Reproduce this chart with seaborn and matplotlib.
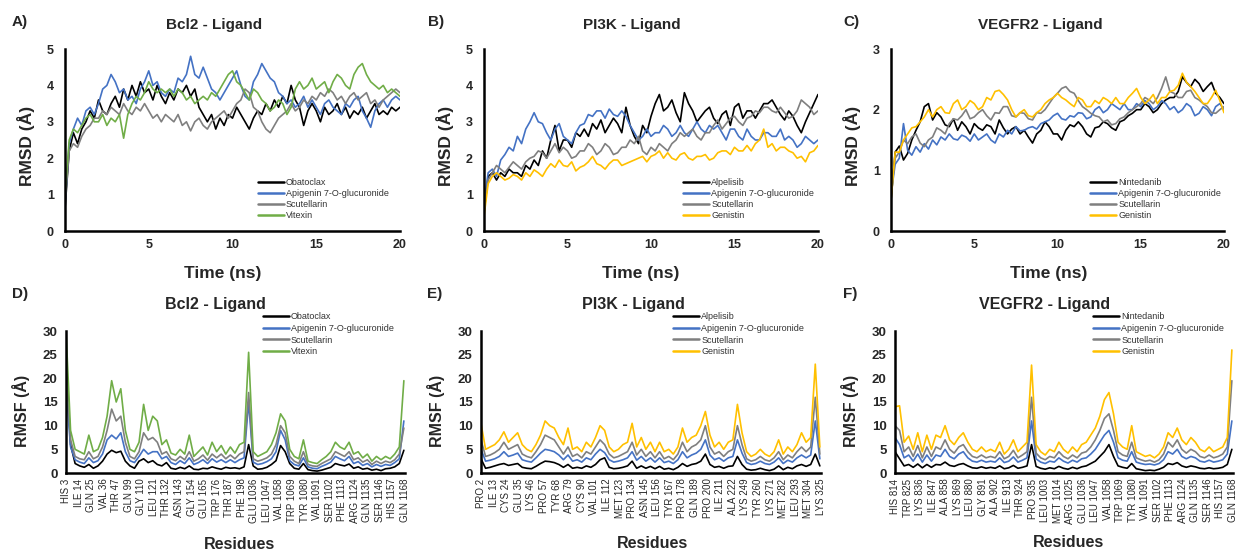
import numpy as np
import pandas as pd
import matplotlib
matplotlib.use("Agg")
import matplotlib.pyplot as plt
import seaborn as sns

sns.set_style("white")
plt.rcParams["font.family"] = ["Liberation Sans", "DejaVu Sans"]

W, H = 1236, 552

# ---------------- RMSD data (Å), sampled every 0.25 ns ----------------
time_ns = np.arange(0, 20.001, 0.25)

bcl2_obatoclax = [
    0.6, 2.2, 2.7, 2.4, 2.8, 3.0, 3.3, 3.1,
    3.6, 3.3, 3.2, 3.5, 3.7, 3.4, 3.9, 3.6,
    4.0, 3.7, 4.1, 3.8, 3.9, 3.6, 4.0, 3.7,
    3.5, 3.8, 3.6, 3.9, 3.8, 4.0, 3.7, 3.9,
    3.4, 3.2, 3.0, 3.2, 2.8, 3.1, 2.9, 3.2,
    3.1, 3.4, 3.2, 3.0, 2.8, 3.1, 3.3, 3.2,
    3.5, 3.3, 3.6, 3.4, 3.7, 3.5, 4.0, 3.6,
    3.4, 2.9, 3.3, 3.5, 3.3, 3.0, 3.4, 3.2,
    3.3, 3.5, 3.2, 3.4, 3.1, 3.3, 3.2, 3.4,
    3.1, 3.3, 3.5, 3.2, 3.3, 3.2, 3.4, 3.3,
    3.4]
bcl2_apigenin = [
    0.7, 2.4, 2.8, 3.1, 2.9, 3.3, 3.4, 3.2,
    3.5, 3.9, 4.0, 4.3, 4.1, 3.8, 3.9, 3.6,
    3.7, 3.5, 3.9, 4.1, 4.4, 4.0, 4.1, 3.8,
    3.7, 3.9, 3.8, 4.2, 4.1, 4.3, 4.8, 4.3,
    4.2, 4.5, 4.2, 3.9, 3.8, 3.6, 3.8, 4.0,
    4.2, 4.4, 4.0, 3.7, 3.6, 4.1, 4.3, 4.6,
    4.4, 4.2, 4.1, 3.8, 3.7, 3.5, 3.6, 3.4,
    3.5, 3.7, 3.4, 3.6, 3.4, 3.2, 3.5, 3.6,
    3.4, 3.3, 3.2, 3.5, 3.4, 3.6, 3.7, 3.3,
    3.1, 2.85, 3.3, 3.5, 3.6, 3.4, 3.6, 3.7,
    3.6]
bcl2_scutellarin = [
    0.8, 2.2, 2.4, 2.3, 2.6, 2.8, 2.9, 3.1,
    3.1, 3.3, 3.2, 3.4, 3.3, 3.2, 3.5, 3.3,
    3.2, 3.4, 3.3, 3.5, 3.3, 3.1, 3.2, 3.0,
    3.2, 3.1, 3.0, 3.2, 2.9, 3.0, 2.75, 3.0,
    3.1, 2.9, 2.8, 3.0, 3.1, 3.2, 3.3, 3.1,
    3.3, 3.5, 3.6, 3.9, 3.8, 3.4, 3.3, 3.0,
    2.8, 2.7, 2.9, 3.1, 3.2, 3.3, 3.5, 3.3,
    3.4, 3.6, 3.5, 3.7, 3.6, 3.8, 3.7, 3.9,
    3.8, 3.6, 3.7, 3.5, 3.7, 3.8, 3.6, 3.7,
    3.8, 3.5, 3.6, 3.4, 3.6, 3.7, 3.8, 3.9,
    3.8]
bcl2_vitexin = [
    1.0, 2.5, 2.8, 2.7, 2.9, 3.1, 3.2, 3.0,
    3.0, 3.2, 2.9, 3.1, 3.0, 3.2, 2.55, 3.2,
    3.5, 3.7, 3.6, 3.8, 4.1, 3.9, 3.8, 3.9,
    3.8, 3.9, 3.7, 3.9, 3.8, 3.6, 3.7, 3.5,
    3.6, 3.7, 3.6, 3.8, 3.7, 3.9, 4.1, 4.3,
    4.4, 4.1, 4.0, 3.8, 3.6, 3.9, 3.8, 3.6,
    3.5, 3.3, 3.4, 3.6, 3.5, 3.2, 3.4, 3.9,
    4.1, 3.9, 4.0, 4.2, 3.9, 4.0, 4.1, 3.8,
    4.1, 4.3, 4.2, 4.0, 3.9, 4.3, 4.5, 4.6,
    4.3, 4.1, 4.0, 3.9, 4.0, 3.8, 3.9, 3.8,
    3.7]

pi3k_alpelisib = [
    0.5, 1.5, 1.6, 1.4, 1.6, 1.5, 1.7, 1.6,
    1.6, 1.5, 1.8, 1.7, 1.95, 1.8, 2.2, 2.0,
    2.5, 2.9, 2.2, 2.5, 2.5, 2.3, 2.7, 2.6,
    2.8, 2.6, 2.95, 2.8, 3.05, 2.7, 2.9, 3.1,
    2.95, 2.7, 3.4, 2.9, 2.6, 2.4, 2.9, 2.7,
    3.15, 3.5, 3.75, 3.3, 3.4, 3.6, 3.25, 3.0,
    3.8, 3.5, 3.3, 3.0, 3.15, 3.3, 3.4, 3.1,
    2.95, 3.2, 3.3, 2.9, 3.4, 3.5, 3.1, 3.3,
    3.3, 3.1, 3.3, 3.5, 3.5, 3.6, 3.4, 3.2,
    3.05, 3.3, 3.15, 2.9, 2.7, 3.0, 3.25, 3.5,
    3.75]
pi3k_apigenin = [
    0.8, 1.6, 1.7, 1.5, 1.95, 2.1, 2.3, 2.2,
    2.6, 2.4, 2.8, 3.0, 3.25, 3.0, 2.95, 2.7,
    2.5, 2.8, 2.95, 2.6, 2.5, 2.4, 2.7, 2.9,
    2.95, 3.2, 3.15, 3.3, 3.3, 3.1, 3.35, 3.2,
    3.15, 3.3, 3.15, 2.9, 2.7, 2.5, 2.6, 2.8,
    2.6, 2.7, 2.7, 2.9, 2.8, 2.6, 2.7, 2.9,
    2.7, 2.6, 2.8, 3.0, 2.8, 2.7, 2.9, 2.8,
    2.9, 2.7, 2.5, 2.8, 2.8, 2.6, 2.5, 2.8,
    2.6, 2.5, 2.5, 2.7, 2.7, 2.6, 2.6, 2.8,
    2.5, 2.6, 2.5, 2.3, 2.4, 2.6, 2.5, 2.4,
    2.5]
pi3k_scutellarin = [
    0.6, 1.4, 1.6, 1.8, 1.7, 1.6, 1.75, 1.9,
    1.8, 1.7, 1.9, 2.0, 2.05, 2.2, 2.15, 2.0,
    2.2, 2.4, 2.15, 2.3, 2.2, 2.0, 2.05, 2.2,
    2.2, 2.4, 2.3, 2.1, 2.2, 2.4, 2.3, 2.1,
    2.15, 2.3, 2.3, 2.5, 2.4, 2.6, 2.2, 2.1,
    2.3, 2.2, 2.4, 2.3, 2.2, 2.4, 2.5, 2.7,
    2.6, 2.7, 2.8, 2.6, 2.5, 2.7, 2.7, 2.9,
    3.05, 2.8, 2.95, 3.1, 3.15, 3.0, 2.9, 3.1,
    3.15, 3.3, 3.25, 3.4, 3.4, 3.3, 3.25, 3.4,
    3.25, 3.1, 3.15, 3.3, 3.6, 3.5, 3.4, 3.2,
    3.3]
pi3k_genistin = [
    0.4, 1.3, 1.5, 1.6, 1.5, 1.4, 1.45, 1.55,
    1.5, 1.4, 1.6, 1.5, 1.68, 1.6, 1.5, 1.7,
    1.85, 1.75, 1.95, 1.8, 1.77, 1.9, 1.65, 1.75,
    1.8, 1.9, 2.05, 1.85, 1.8, 1.7, 1.85, 1.95,
    1.95, 1.8, 1.85, 1.9, 1.95, 2.0, 2.05, 1.9,
    2.05, 2.1, 2.2, 2.0, 2.15, 2.0, 1.95, 2.1,
    2.15, 2.0, 1.95, 2.05, 2.05, 2.1, 1.95, 2.0,
    2.15, 2.2, 2.2, 2.1, 2.3, 2.2, 2.2, 2.35,
    2.2, 2.4, 2.5, 2.8, 2.3, 2.4, 2.2, 2.3,
    2.3, 2.2, 2.15, 2.0, 2.05, 1.9, 2.15, 2.2,
    2.35]

vegfr2_nintedanib = [
    0.5, 1.3, 1.4, 1.17, 1.28, 1.5, 1.66, 1.8,
    2.05, 2.1, 1.83, 1.95, 1.88, 1.75, 1.72, 1.85,
    1.66, 1.8, 1.72, 1.6, 1.77, 1.7, 1.66, 1.75,
    1.72, 1.6, 1.83, 1.7, 1.6, 1.68, 1.72, 1.6,
    1.66, 1.55, 1.45, 1.6, 1.66, 1.8, 1.72, 1.6,
    1.6, 1.5, 1.66, 1.75, 1.72, 1.8, 1.72, 1.6,
    1.55, 1.7, 1.72, 1.8, 1.77, 1.7, 1.66, 1.8,
    1.83, 1.9, 1.94, 2.0, 2.0, 2.1, 2.05, 1.95,
    2.0, 2.1, 2.16, 2.2, 2.2, 2.3, 2.54, 2.45,
    2.38, 2.5, 2.43, 2.3, 2.38, 2.45, 2.27, 2.2,
    2.1]
vegfr2_apigenin = [
    0.6, 1.1, 1.2, 1.77, 1.33, 1.25, 1.39, 1.3,
    1.44, 1.35, 1.5, 1.42, 1.55, 1.5, 1.6, 1.52,
    1.5, 1.58, 1.55, 1.48, 1.6, 1.5, 1.55, 1.6,
    1.5, 1.45, 1.6, 1.55, 1.66, 1.6, 1.72, 1.65,
    1.66, 1.7, 1.72, 1.68, 1.77, 1.8, 1.83, 1.9,
    1.94, 1.85, 1.83, 1.9, 1.88, 1.95, 1.94, 1.85,
    1.88, 2.0, 2.05, 1.95, 2.0, 2.1, 2.05, 2.0,
    2.1, 2.0, 2.0, 2.1, 2.05, 2.15, 2.1, 2.0,
    2.05, 2.15, 2.1, 2.0, 2.05, 1.95, 2.0, 2.1,
    2.05, 1.9, 1.94, 2.05, 2.0, 1.9, 2.05, 2.1,
    2.0]
vegfr2_scutellarin = [
    0.7, 1.2, 1.3, 1.5, 1.44, 1.55, 1.6, 1.45,
    1.39, 1.5, 1.55, 1.7, 1.66, 1.6, 1.77, 1.85,
    1.83, 1.9, 2.0, 1.85, 1.88, 1.95, 2.0, 1.9,
    1.83, 1.95, 1.94, 2.05, 2.05, 1.9, 1.88, 1.95,
    1.94, 1.85, 1.83, 1.95, 1.94, 2.0, 2.1, 2.2,
    2.27, 2.35, 2.38, 2.3, 2.27, 2.15, 2.05, 2.0,
    1.94, 1.9, 1.88, 1.8, 1.83, 1.75, 1.77, 1.85,
    1.88, 1.95, 2.0, 2.05, 2.1, 2.2, 2.16, 2.1,
    2.2, 2.35, 2.54, 2.3, 2.27, 2.2, 2.2, 2.3,
    2.32, 2.2, 2.16, 2.1, 2.05, 1.95, 1.94, 2.0,
    2.05]
vegfr2_genistin = [
    0.5, 1.3, 1.3, 1.5, 1.6, 1.7, 1.72, 1.8,
    1.88, 2.0, 1.88, 2.0, 2.05, 1.95, 1.94, 2.1,
    2.16, 2.0, 2.05, 2.15, 2.1, 2.0, 2.05, 2.2,
    2.16, 2.3, 2.32, 2.25, 2.16, 2.0, 1.88, 1.95,
    2.0, 1.9, 1.88, 1.95, 2.0, 2.1, 2.16, 2.2,
    2.27, 2.2, 2.16, 2.1, 2.05, 2.2, 2.16, 2.05,
    2.05, 2.15, 2.1, 2.2, 2.16, 2.1, 2.2, 2.1,
    2.1, 2.2, 2.27, 2.35, 2.2, 2.1, 2.16, 2.25,
    2.1, 2.2, 2.2, 2.3, 2.32, 2.4, 2.6, 2.45,
    2.38, 2.3, 2.2, 2.1, 2.1, 2.2, 2.32, 2.15,
    1.95]

# ---------------- RMSF data (Å), every 4th residue ----------------
residue_idx = np.arange(0, 297, 4)

bcl2_rmsf_obatoclax = [
    25, 6.0, 2.0, 1.5, 1.2, 1.8, 1.0, 1.5, 2.5, 4.0,
    4.8, 4.3, 4.6, 2.5, 1.5, 1.0, 2.5, 3.0, 2.2, 2.6,
    1.8, 1.5, 2.2, 1.0, 0.8, 1.2, 0.9, 1.5, 0.8, 0.7,
    1.0, 0.9, 1.3, 1.0, 0.8, 1.2, 1.0, 1.1, 0.9, 1.3,
    6.0, 1.5, 0.8, 0.9, 1.2, 1.8, 2.6, 5.8, 4.5, 2.0,
    1.0, 0.8, 2.0, 0.7, 0.5, 0.4, 0.6, 0.9, 1.2, 2.0,
    1.7, 1.5, 1.9, 1.0, 1.3, 0.8, 1.0, 0.6, 0.8, 0.5,
    0.9, 1.0, 1.3, 2.0, 4.8]
bcl2_rmsf_apigenin = [
    18, 5.5, 2.8, 2.3, 2.0, 3.2, 2.2, 2.6, 4.0, 7.0,
    8.0, 7.2, 8.5, 4.5, 2.6, 2.2, 3.5, 5.0, 4.0, 4.5,
    4.5, 3.0, 3.5, 2.2, 1.8, 2.6, 2.0, 3.2, 1.8, 2.2,
    2.8, 2.0, 3.0, 2.3, 2.8, 2.2, 2.8, 2.2, 2.8, 3.2,
    15.0, 2.3, 1.8, 2.0, 2.4, 3.0, 4.5, 9.0, 7.0, 2.6,
    1.8, 1.5, 3.2, 1.3, 1.0, 0.9, 1.4, 1.8, 2.3, 3.5,
    3.0, 2.6, 3.5, 2.0, 2.4, 1.6, 2.0, 1.3, 1.8, 1.4,
    1.8, 1.6, 2.2, 3.0, 11.0]
bcl2_rmsf_scutellarin = [
    22, 7.0, 3.5, 3.0, 2.8, 4.5, 3.0, 3.5, 5.5, 9.0,
    13.5, 11.0, 12.0, 6.5, 3.5, 3.0, 4.5, 8.5, 7.0, 7.5,
    6.5, 4.0, 4.5, 3.0, 2.6, 3.5, 2.8, 4.5, 2.5, 3.0,
    3.8, 2.7, 4.0, 3.2, 4.0, 3.0, 3.8, 3.0, 4.0, 4.5,
    17.0, 3.0, 2.5, 2.8, 3.2, 4.0, 6.0, 10.0, 8.5, 3.5,
    2.5, 2.0, 4.5, 1.8, 1.5, 1.4, 2.0, 2.5, 3.0, 4.5,
    4.0, 3.5, 4.5, 2.8, 3.2, 2.3, 2.8, 1.8, 2.5, 2.0,
    2.5, 2.2, 2.8, 4.0, 9.5]
bcl2_rmsf_vitexin = [
    30, 9.0, 5.0, 4.5, 4.0, 8.0, 4.5, 5.0, 7.5, 12.0,
    19.5, 15.0, 17.8, 9.0, 5.0, 4.5, 6.5, 14.5, 9.0, 12.0,
    11.0, 6.0, 7.0, 4.2, 3.8, 5.0, 4.0, 8.0, 3.5, 4.5,
    5.5, 3.8, 6.5, 4.5, 5.8, 4.0, 5.5, 4.2, 6.0, 6.5,
    25.5, 4.5, 3.5, 4.0, 4.5, 6.0, 8.5, 12.5, 11.0, 5.0,
    3.5, 3.0, 7.0, 2.5, 2.2, 2.0, 2.8, 3.5, 4.5, 6.5,
    5.5, 5.0, 6.5, 4.0, 4.5, 3.2, 4.0, 2.5, 3.5, 2.8,
    3.5, 3.0, 4.0, 5.5, 19.5]

pi3k_rmsf_alpelisib = [
    3.0, 1.0, 1.2, 1.5, 1.8, 2.0, 1.6, 1.8, 2.0, 1.2,
    1.0, 0.9, 1.4, 2.0, 2.5, 2.4, 2.2, 1.8, 1.2, 1.8,
    1.0, 1.2, 1.0, 1.5, 1.2, 1.8, 2.8, 3.2, 1.2, 0.9,
    1.0, 1.2, 1.5, 2.5, 1.0, 1.5, 1.0, 1.4, 0.9, 1.4,
    0.8, 1.0, 0.7, 1.2, 2.0, 1.4, 1.8, 2.0, 2.5, 4.0,
    1.8, 1.2, 1.4, 1.0, 1.4, 1.5, 3.5, 1.8, 0.8, 0.6,
    0.7, 1.0, 0.7, 0.5, 0.8, 1.5, 0.7, 1.2, 0.9, 1.5,
    1.8, 1.4, 1.8, 4.0, 1.5]
pi3k_rmsf_apigenin = [
    5.0, 2.5, 2.7, 3.0, 3.5, 4.5, 3.5, 3.8, 4.2, 2.8,
    2.5, 2.3, 3.2, 4.2, 5.0, 4.8, 4.5, 3.8, 2.8, 3.8,
    2.5, 2.8, 2.3, 3.2, 2.8, 4.0, 5.0, 4.3, 2.8, 2.3,
    2.5, 2.8, 3.2, 4.5, 2.7, 3.5, 2.5, 3.2, 2.3, 3.2,
    2.2, 2.5, 2.0, 2.8, 4.5, 3.2, 3.8, 4.2, 5.0, 7.0,
    3.8, 2.8, 3.2, 2.5, 3.2, 3.5, 7.0, 4.2, 2.2, 1.8,
    2.0, 2.5, 2.0, 1.8, 2.3, 3.2, 2.0, 2.7, 2.3, 3.2,
    3.8, 3.2, 3.8, 11.0, 3.0]
pi3k_rmsf_scutellarin = [
    7.0, 3.5, 3.8, 4.3, 5.0, 6.5, 5.0, 5.5, 6.0, 4.0,
    3.5, 3.2, 4.5, 6.0, 8.0, 7.5, 7.0, 5.5, 4.0, 5.5,
    3.5, 4.0, 3.2, 4.5, 4.0, 5.5, 7.0, 6.0, 4.0, 3.2,
    3.5, 4.0, 4.5, 6.5, 3.8, 5.0, 3.5, 4.5, 3.2, 4.5,
    3.0, 3.5, 2.8, 4.0, 6.5, 4.5, 5.5, 6.0, 7.0, 10.0,
    5.5, 4.0, 4.5, 3.5, 4.5, 5.0, 10.0, 6.0, 3.0, 2.5,
    2.8, 3.5, 2.8, 2.5, 3.2, 4.5, 2.8, 3.8, 3.2, 4.5,
    5.5, 4.5, 5.5, 16.0, 4.0]
pi3k_rmsf_genistin = [
    10.5, 5.0, 5.5, 6.0, 7.0, 8.7, 6.5, 7.5, 8.5, 6.0,
    5.0, 4.5, 6.0, 8.0, 11.0, 10.0, 9.5, 7.5, 6.0, 9.5,
    5.0, 5.5, 4.5, 6.5, 5.5, 7.5, 10.0, 9.0, 5.5, 4.5,
    5.0, 6.0, 6.5, 10.5, 5.5, 7.5, 5.0, 6.5, 4.5, 6.5,
    4.5, 5.0, 4.0, 5.5, 9.5, 6.5, 7.5, 8.0, 10.0, 13.0,
    8.0, 5.5, 6.5, 5.0, 6.5, 7.0, 14.5, 8.5, 4.5, 3.5,
    4.0, 5.0, 4.0, 3.5, 4.5, 7.0, 4.0, 5.5, 4.5, 6.0,
    8.5, 6.5, 7.5, 23.0, 5.5]

vegfr2_rmsf_nintedanib = [
    4.5, 3.0, 1.5, 1.8, 1.2, 1.9, 1.1, 1.8, 1.2, 1.8,
    1.7, 2.3, 1.6, 1.4, 1.8, 2.0, 1.5, 1.1, 1.0, 1.3,
    1.0, 1.2, 1.0, 1.5, 0.9, 1.1, 1.6, 1.0, 1.2, 1.5,
    6.0, 1.4, 1.0, 0.8, 1.1, 0.9, 1.4, 1.0, 0.8, 1.2,
    0.9, 1.3, 1.5, 2.0, 2.5, 3.5, 4.5, 6.0, 3.5, 1.5,
    1.2, 1.0, 2.0, 0.9, 0.7, 0.5, 0.6, 0.5, 0.8, 1.2,
    2.0, 1.8, 2.2, 1.5, 1.2, 1.5, 1.3, 1.0, 0.9, 1.1,
    0.9, 1.0, 1.2, 1.8, 5.0]
vegfr2_rmsf_apigenin = [
    7.5, 6.0, 3.2, 3.8, 2.5, 4.0, 2.3, 3.8, 2.5, 3.8,
    3.5, 5.0, 3.5, 3.0, 4.0, 4.5, 3.2, 2.5, 2.3, 2.7,
    2.3, 2.5, 2.3, 3.2, 2.2, 2.5, 3.4, 2.3, 2.7, 3.2,
    11.0, 3.0, 2.3, 2.0, 2.5, 2.3, 3.2, 2.5, 2.1, 2.7,
    2.3, 3.0, 3.2, 4.0, 5.0, 6.5, 8.0, 9.0, 6.5, 3.2,
    2.7, 2.5, 4.5, 2.3, 2.0, 1.8, 1.9, 1.7, 2.0, 2.8,
    4.5, 4.0, 5.0, 3.5, 3.0, 3.5, 3.2, 2.5, 2.3, 2.7,
    2.3, 2.5, 2.8, 4.0, 11.0]
vegfr2_rmsf_scutellarin = [
    10.0, 9.0, 4.5, 5.5, 3.5, 5.8, 3.2, 5.5, 3.5, 5.5,
    5.0, 7.0, 5.0, 4.2, 5.5, 6.0, 4.5, 3.5, 3.2, 3.8,
    3.2, 3.5, 3.2, 4.5, 3.0, 3.5, 4.8, 3.2, 3.8, 4.5,
    16.0, 4.2, 3.2, 2.8, 3.5, 3.2, 4.5, 3.5, 3.0, 3.8,
    3.2, 4.2, 4.5, 5.5, 7.0, 9.0, 11.5, 12.5, 9.0, 4.5,
    3.8, 3.5, 6.5, 3.2, 2.8, 2.5, 2.7, 2.3, 2.8, 4.0,
    6.5, 5.5, 7.0, 5.0, 4.2, 5.0, 4.5, 3.5, 3.2, 3.8,
    3.2, 3.5, 4.0, 5.5, 19.5]
vegfr2_rmsf_genistin = [
    14.0, 14.2, 6.5, 7.8, 5.0, 8.5, 4.5, 8.0, 5.0, 8.0,
    7.5, 10.0, 7.0, 6.0, 7.5, 8.5, 6.5, 5.0, 4.5, 5.5,
    4.5, 5.0, 4.5, 6.5, 4.0, 5.0, 7.0, 4.5, 5.5, 6.5,
    22.8, 6.0, 4.5, 3.8, 5.0, 4.5, 6.5, 5.0, 4.2, 5.5,
    4.5, 6.0, 6.5, 8.0, 9.5, 12.0, 15.5, 17.0, 12.5, 6.5,
    5.5, 5.0, 10.0, 4.5, 4.0, 3.5, 3.8, 3.2, 4.0, 5.5,
    8.5, 7.5, 9.5, 7.0, 6.0, 7.5, 6.5, 5.0, 4.5, 5.5,
    4.5, 5.0, 5.5, 7.5, 26.0]

# residue tick labels (every 11th residue)
bcl2_residues = ["HIS 3", "ILE 14", "GLN 25", "VAL 36", "THR 47", "GLN 99", "GLY 110",
                 "LEU 121", "THR 132", "ASN 143", "GLY 154", "GLU 165", "TRP 176",
                 "THR 187", "PHE 198", "GLU 1036", "LEU 1047", "VAL 1058", "TRP 1069",
                 "TYR 1080", "VAL 1091", "SER 1102", "PHE 1113", "ARG 1124", "GLN 1135",
                 "SER 1146", "HIS 1157", "GLN 1168"]
pi3k_residues = ["PRO 2", "ILE 13", "CYS 24", "GLU 35", "LYS 46", "PRO 57", "TYR 68",
                 "ARG 79", "CYS 90", "VAL 101", "ILE 112", "MET 123", "PRO 134",
                 "ASN 145", "LEU 156", "TYR 167", "PRO 178", "GLN 189", "PRO 200",
                 "ILE 211", "ALA 222", "LYS 249", "TYR 260", "LYS 271", "MET 282",
                 "LEU 293", "MET 304", "LYS 325"]
vegfr2_residues = ["HIS 814", "TRP 825", "LYS 836", "ILE 847", "ALA 858", "LYS 869",
                   "LEU 880", "GLY 891", "ALA 902", "ILE 913", "THR 924", "PRO 935",
                   "LEU 1003", "MET 1014", "ARG 1025", "GLU 1036", "LEU 1047", "VAL 1058",
                   "TRP 1069", "TYR 1080", "VAL 1091", "SER 1102", "PHE 1113", "ARG 1124",
                   "GLN 1135", "SER 1146", "HIS 1157", "GLN 1168"]

bcl2_names = ["Obatoclax", "Apigenin 7-O-glucuronide", "Scutellarin", "Vitexin"]
pi3k_names = ["Alpelisib", "Apigenin 7-O-glucuronide", "Scutellarin", "Genistin"]
vegfr2_names = ["Nintedanib", "Apigenin 7-O-glucuronide", "Scutellarin", "Genistin"]

bcl2_colors = ["#000000", "#4472C4", "#7F7F7F", "#70AD47"]
other_colors = ["#000000", "#4472C4", "#7F7F7F", "#FFC000"]


def add_axes(fig, left, right, top, bottom):
    # pixel box -> figure fraction
    return fig.add_axes([left / W, 1 - bottom / H, (right - left) / W, (bottom - top) / H])


def draw_lines(ax, x, series, names, colors, leg_xy, leg_space):
    df = pd.concat([pd.DataFrame({"x": x, "y": vals, "ligand": n})
                    for n, vals in zip(names, series)])
    sns.lineplot(data=df, x="x", y="y", hue="ligand", hue_order=names,
                 palette=colors, linewidth=1.2, errorbar=None, sort=False, ax=ax)
    handles, labels = ax.get_legend_handles_labels()
    leg = ax.legend(handles, labels, loc="upper left", bbox_to_anchor=leg_xy,
                    frameon=False, fontsize=6.5, handlelength=2.9, handletextpad=0.2,
                    labelspacing=leg_space, borderpad=0, borderaxespad=0)
    for line in leg.get_lines():
        line.set_linewidth(1.8)
    for t in leg.get_texts():
        t.set_color("#333333")
    for s in ["top", "right"]:
        ax.spines[s].set_visible(False)
    for s in ["left", "bottom"]:
        ax.spines[s].set_linewidth(1.8)
        ax.spines[s].set_color("black")
    ax.tick_params(length=0)


fig = plt.figure(figsize=(W / 100, H / 100), dpi=100)

# ---------------- top row: RMSD ----------------
rmsd_panels = [
    ("A)", "Bcl2 - Ligand", (65, 400), 5,
     [bcl2_obatoclax, bcl2_apigenin, bcl2_scutellarin, bcl2_vitexin],
     bcl2_names, bcl2_colors, 0.576, 12, 214),
    ("B)", "PI3K - Ligand", (484, 818), 5,
     [pi3k_alpelisib, pi3k_apigenin, pi3k_scutellarin, pi3k_genistin],
     pi3k_names, other_colors, 0.596, 428, 632),
    ("C)", "VEGFR2 - Ligand", (891, 1224), 3,
     [vegfr2_nintedanib, vegfr2_apigenin, vegfr2_scutellarin, vegfr2_genistin],
     vegfr2_names, other_colors, 0.598, 843, 1040),
]
for letter, title, (l, r), ymax, series, names, colors, legx, letx, titx in rmsd_panels:
    ax = add_axes(fig, l, r, 49, 231)
    draw_lines(ax, time_ns, series, names, colors, (legx, 0.29), 0.22)
    ax.set_xlim(0, 20)
    ax.set_ylim(0, ymax)
    ax.set_xticks([0, 5, 10, 15, 20])
    ax.set_xticklabels(["0", "5", "10", "15", "20"], fontsize=9, fontweight="bold")
    ax.set_yticks(range(ymax + 1))
    ax.set_yticklabels([str(v) for v in range(ymax + 1)], fontsize=9, fontweight="bold")
    ax.tick_params(axis="y", pad=8)
    ax.tick_params(axis="x", pad=6)
    ax.set_xlabel("Time (ns)", fontsize=12.5, fontweight="bold")
    ax.set_ylabel("RMSD (Å)", fontsize=12.5, fontweight="bold")
    ax.xaxis.set_label_coords((titx + 9 - l) / (r - l), -0.19)
    ax.yaxis.set_label_coords(-0.09, 0.47)
    fig.text(titx / W, 1 - 25 / H, title, ha="center", va="center",
             fontsize=11, fontweight="bold")
    fig.text(letx / W, 1 - 22 / H, letter, ha="left", va="center",
             fontsize=11, fontweight="bold")

# ---------------- bottom row: RMSF ----------------
tick_pos = np.arange(0, 298, 11)
rmsf_panels = [
    ("D)", "Bcl2 - Ligand", (66, 405),
     [bcl2_rmsf_obatoclax, bcl2_rmsf_apigenin, bcl2_rmsf_scutellarin, bcl2_rmsf_vitexin],
     bcl2_names, bcl2_colors, bcl2_residues, 0.581, 12, 215, 240, 537),
    ("E)", "PI3K - Ligand", (481, 821),
     [pi3k_rmsf_alpelisib, pi3k_rmsf_apigenin, pi3k_rmsf_scutellarin, pi3k_rmsf_genistin],
     pi3k_names, other_colors, pi3k_residues, 0.565, 427, 633, 652, 536),
    ("F)", "VEGFR2 - Ligand", (895, 1233),
     [vegfr2_rmsf_nintedanib, vegfr2_rmsf_apigenin, vegfr2_rmsf_scutellarin,
      vegfr2_rmsf_genistin],
     vegfr2_names, other_colors, vegfr2_residues, 0.586, 843, 1045, 1069, 535),
]
for letter, title, (l, r), series, names, colors, ticklabels, legx, letx, titx, xlx, xly in rmsf_panels:
    ax = add_axes(fig, l, r, 331, 473)
    draw_lines(ax, residue_idx, series, names, colors, (legx, 1.135), 0.32)
    ax.set_xlim(0, 297)
    ax.set_ylim(0, 30)
    ax.set_xticks(tick_pos)
    ax.set_xticklabels(ticklabels, rotation=90, fontsize=7)
    ax.set_yticks(range(0, 31, 5))
    ax.set_yticklabels([str(v) for v in range(0, 31, 5)], fontsize=9.5, fontweight="bold")
    ax.tick_params(axis="y", pad=6)
    ax.tick_params(axis="x", pad=4)
    ax.set_xlabel("Residues", fontsize=11.5, fontweight="bold")
    ax.set_ylabel("RMSF (Å)", fontsize=11.5, fontweight="bold")
    ax.xaxis.set_label_coords((xlx - l) / (r - l), (473 - xly) / 142)
    ax.yaxis.set_label_coords(-0.107, 0.44)
    fig.text(titx / W, 1 - 304 / H, title, ha="center", va="center",
             fontsize=11.5, fontweight="bold")
    fig.text(letx / W, 1 - 294 / H, letter, ha="left", va="center",
             fontsize=11, fontweight="bold")

fig.savefig("out.png", dpi=100)
